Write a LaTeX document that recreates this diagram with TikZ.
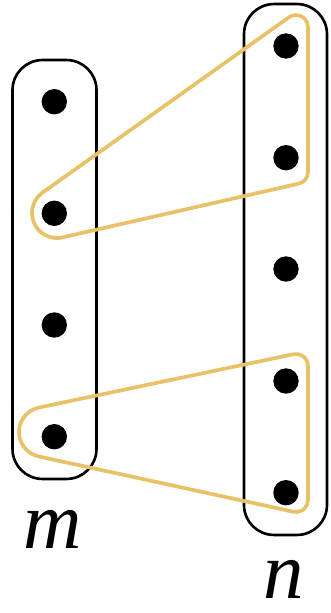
\documentclass[tikz,border=0pt]{standalone}
\usepackage{fontspec}
\setmainfont{Liberation Serif}
\usetikzlibrary{calc}
\definecolor{gold}{RGB}{232,194,102}
\begin{document}
\begin{tikzpicture}[x=0.02cm,y=0.02cm,
  dot/.style={circle,fill=black,inner sep=0pt,minimum size=0.508cm},
  setbox/.style={draw=black,line width=1.5pt,rounded corners=0.6cm,inner sep=0pt},
  hull/.style={draw=gold,line width=2.1pt,line join=round},
  lbl/.style={inner sep=0pt,font=\fontsize{46}{46}\selectfont\itshape}]
\useasboundingbox (0,0) rectangle (331,613);
% sets
\node[setbox,minimum width=1.68cm,minimum height=8.38cm] (M) at (54.5,343.5) {};
\node[setbox,minimum width=1.66cm,minimum height=10.62cm] (N) at (285.5,343.5) {};
% elements
\node[dot] (m1) at (54.3,511.3) {};
\node[dot] (m2) at (54.3,399.7) {};
\node[dot] (m3) at (54.3,288) {};
\node[dot] (m4) at (54.3,176.3) {};
\node[dot] (n1) at (286,567) {};
\node[dot] (n2) at (286,455.3) {};
\node[dot] (n3) at (286,344) {};
\node[dot] (n4) at (286,232) {};
\node[dot] (n5) at (286,120.3) {};
% hull centres
\coordinate (L) at (57,400);
\coordinate (A) at (296,586);
\coordinate (B) at (296,441);
\coordinate (L2) at (44,181);
\coordinate (C) at (296,247);
\coordinate (D) at (296,113);
% upper hull
\draw[hull] ($(A)+(0:0.24cm)$) arc[start angle=0,end angle=125.43,radius=0.24cm]
  -- ($(L)+(125.43:0.5cm)$) arc[start angle=125.43,end angle=282.8,radius=0.5cm]
  -- ($(B)+(282.8:0.24cm)$) arc[start angle=282.8,end angle=360,radius=0.24cm]
  -- cycle;
% lower hull
\draw[hull] ($(C)+(0:0.24cm)$) arc[start angle=0,end angle=101.82,radius=0.24cm]
  -- ($(L2)+(101.82:0.5cm)$) arc[start angle=101.82,end angle=257.75,radius=0.5cm]
  -- ($(D)+(257.75:0.24cm)$) arc[start angle=257.75,end angle=360,radius=0.24cm]
  -- cycle;
% labels
\node[lbl] (lm) at (53,84) {m};
\node[lbl] (ln) at (284,34) {n};
\end{tikzpicture}
\end{document}
